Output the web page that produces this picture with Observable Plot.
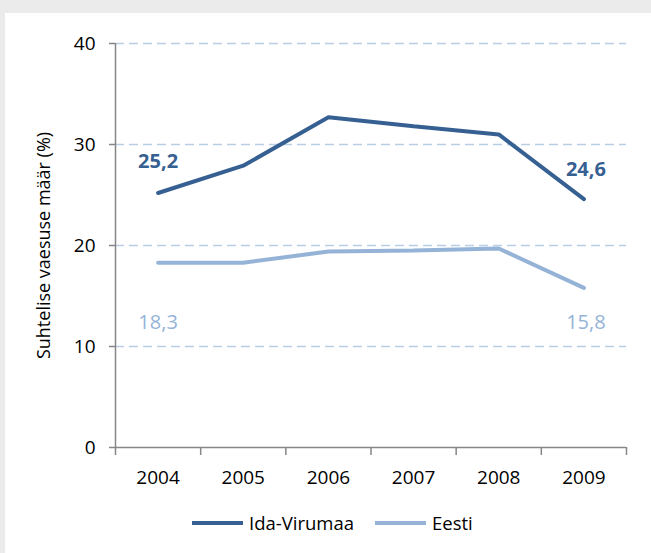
<!DOCTYPE html>
<html>
<head>
<meta charset="utf-8">
<script src="https://cdn.jsdelivr.net/npm/d3@7"></script>
<script src="https://cdn.jsdelivr.net/npm/@observablehq/plot@0.6"></script>
<style>
  html, body { margin: 0; padding: 0; background: #ebebeb; width: 651px; height: 553px; overflow: hidden; }
  #panel { position: absolute; left: 5px; top: 13px; width: 646px; height: 540px; background: #ffffff; font-family: "Open Sans", sans-serif; }
  #legend { position: absolute; left: 187px; top: 497px; display: flex; align-items: center; font-size: 18.5px; color: #000; white-space: nowrap; }
  .item { display: flex; align-items: center; margin-right: 21px; }
  .swatch { width: 51px; height: 4px; margin-right: 6px; }
</style>
</head>
<body>
<div id="panel"></div>
<script>
const years = [2004, 2005, 2006, 2007, 2008, 2009];
const idaVirumaa = [25.2, 27.9, 32.7, 31.8, 31.0, 24.6];
const eesti = [18.3, 18.3, 19.4, 19.5, 19.7, 15.8];
const seriesNames = ["Ida-Virumaa", "Eesti"];
const seriesColors = ["#376092", "#95b3d7"];
const yTicks = [0, 10, 20, 30, 40];
const yLabel = "Suhtelise vaesuse määr (%)";

const fmt = v => v.toFixed(1).replace(".", ",");
const ida = years.map((y, i) => ({year: y, value: idaVirumaa[i]}));
const ee = years.map((y, i) => ({year: y, value: eesti[i]}));
const bounds = [years[0] - 0.5, ...years.map(y => y + 0.5)];
const first = a => [a[0]];
const last = a => [a[a.length - 1]];

const chart = Plot.plot({
  width: 646,
  height: 480,
  marginLeft: 110,
  marginRight: 25,
  marginTop: 30,
  marginBottom: 46,
  style: {fontFamily: "Open Sans, sans-serif", fontSize: "19px", background: "transparent", overflow: "visible"},
  x: {domain: [bounds[0], bounds[bounds.length - 1]]},
  y: {domain: [0, 40]},
  marks: [
    Plot.ruleY(yTicks.filter(d => d > 0), {stroke: "#b9cde5", strokeWidth: 1.5, strokeDasharray: "9,5"}),
    Plot.ruleX([bounds[0]], {stroke: "#868686", strokeWidth: 1.5}),
    Plot.ruleY([0], {stroke: "#868686", strokeWidth: 1.5}),
    Plot.axisY({ticks: yTicks, tickSize: 6, tickPadding: 14, stroke: "#868686", strokeWidth: 1.5, color: "#000", label: null, tickFormat: d => String(d)}),
    Plot.axisX({ticks: bounds, tickSize: 8, stroke: "#868686", strokeWidth: 1.5, tickFormat: () => "", label: null}),
    Plot.axisX({ticks: years, tickSize: 0, tickPadding: 23, color: "#000", tickFormat: d => String(d), label: null}),
    Plot.text([yLabel], {frameAnchor: "left", textAnchor: "middle", rotate: -90, dx: -71, fontSize: 18, fill: "#000", style: "letter-spacing: 1.2px"}),
    Plot.line(ee, {x: "year", y: "value", stroke: seriesColors[1], strokeWidth: 4, strokeLinejoin: "miter", strokeLinecap: "round"}),
    Plot.line(ida, {x: "year", y: "value", stroke: seriesColors[0], strokeWidth: 4, strokeLinejoin: "miter", strokeLinecap: "round"}),
    Plot.text(first(ida), {x: "year", y: "value", text: d => fmt(d.value), dy: -31, fontSize: 20, fontWeight: "bold", fill: seriesColors[0]}),
    Plot.text(last(ida), {x: "year", y: "value", text: d => fmt(d.value), dy: -29, dx: 2, fontSize: 20, fontWeight: "bold", fill: seriesColors[0]}),
    Plot.text(first(ee), {x: "year", y: "value", text: d => fmt(d.value), dy: 60, fontSize: 20, fill: seriesColors[1]}),
    Plot.text(last(ee), {x: "year", y: "value", text: d => fmt(d.value), dy: 35, dx: 2, fontSize: 20, fill: seriesColors[1]})
  ]
});
const panel = document.getElementById("panel");
chart.style.position = "absolute";
chart.style.left = "0px";
chart.style.top = "0px";
panel.appendChild(chart);

const legend = document.createElement("div");
legend.id = "legend";
seriesNames.forEach((name, i) => {
  const item = document.createElement("div");
  item.className = "item";
  const sw = document.createElement("div");
  sw.className = "swatch";
  sw.style.background = seriesColors[i];
  const label = document.createElement("span");
  label.textContent = name;
  item.appendChild(sw);
  item.appendChild(label);
  legend.appendChild(item);
});
panel.appendChild(legend);
</script>
</body>
</html>
